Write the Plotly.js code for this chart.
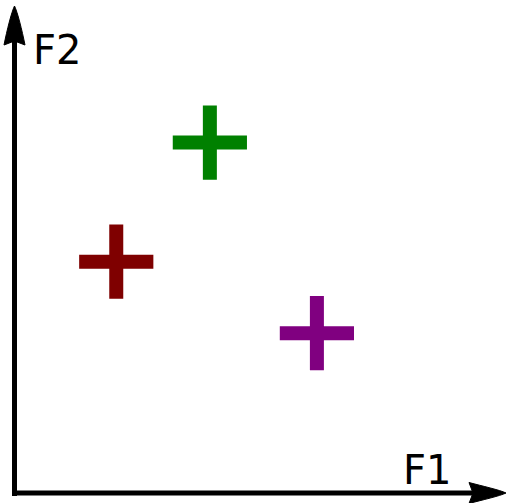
<!DOCTYPE html>
<html>
<head>
<meta charset="utf-8">
<script src="https://cdn.plot.ly/plotly-3.0.1.min.js"></script>
<style>
  html, body { margin: 0; padding: 0; background: #ffffff; }
  #chart { width: 506px; height: 503px; }
</style>
</head>
<body>
<div id="chart"></div>
<script>
// Three groups placed in the F1 / F2 feature plane
const groups = ["A", "B", "C"];
const f1 = [2.12, 4.07, 6.30];
const f2 = [4.82, 7.30, 3.33];
const colors = ["#7f0000", "#008000", "#800080"];
const axisLabels = ["F1", "F2"];

const W = 506, H = 503;
// pixel -> paper helpers for the hand-drawn axis arrows
const px = v => v / W;
const py = v => 1 - v / H;

// origin of the feature axes in pixels and the scale (px per unit)
const ox = 14.5, oy = 493, s = 48;

const trace = {
  type: "scatter",
  mode: "markers",
  x: f1,
  y: f2,
  text: groups,
  hoverinfo: "text",
  marker: {
    symbol: "cross-thin",
    size: 53,
    color: colors,
    line: { color: colors, width: 14 }
  },
  showlegend: false
};

function path(pts) {
  return pts;
}

const upHead = "M" + px(14.5) + "," + py(6) +
  " C" + px(17.5) + "," + py(12) + " " + px(22) + "," + py(30) + " " + px(25) + "," + py(45) +
  " L" + px(14.5) + "," + py(41) +
  " L" + px(4) + "," + py(45) +
  " C" + px(7) + "," + py(30) + " " + px(11.5) + "," + py(12) + " " + px(14.5) + "," + py(6) + " Z";

const rightHead = "M" + px(506) + "," + py(493) +
  " C" + px(500) + "," + py(496) + " " + px(482) + "," + py(500) + " " + px(469) + "," + py(503.5) +
  " L" + px(473) + "," + py(493) +
  " L" + px(469) + "," + py(482.5) +
  " C" + px(482) + "," + py(486) + " " + px(500) + "," + py(490) + " " + px(506) + "," + py(493) + " Z";

const layout = {
  width: W,
  height: H,
  margin: { l: 0, r: 0, t: 0, b: 0 },
  paper_bgcolor: "#ffffff",
  plot_bgcolor: "#ffffff",
  xaxis: {
    range: [-ox / s, (W - ox) / s],
    visible: false,
    fixedrange: true
  },
  yaxis: {
    range: [-(H - oy) / s, oy / s],
    visible: false,
    fixedrange: true
  },
  shapes: [
    { type: "line", xref: "paper", yref: "paper",
      x0: px(14.5), y0: py(496), x1: px(14.5), y1: py(38),
      line: { color: "#000000", width: 5 } },
    { type: "line", xref: "paper", yref: "paper",
      x0: px(12), y0: py(493), x1: px(474), y1: py(493),
      line: { color: "#000000", width: 5 } },
    { type: "path", xref: "paper", yref: "paper", path: upHead,
      fillcolor: "#000000", line: { color: "#000000", width: 1 } },
    { type: "path", xref: "paper", yref: "paper", path: rightHead,
      fillcolor: "#000000", line: { color: "#000000", width: 1 } }
  ],
  annotations: [
    { text: axisLabels[0], xref: "paper", yref: "paper",
      x: px(401), y: py(470), xanchor: "left", yanchor: "middle",
      showarrow: false,
      font: { family: "DejaVu Sans", size: 40, color: "#000000" } },
    { text: axisLabels[1], xref: "paper", yref: "paper",
      x: px(31), y: py(50), xanchor: "left", yanchor: "middle",
      showarrow: false,
      font: { family: "DejaVu Sans", size: 40, color: "#000000" } }
  ]
};

Plotly.newPlot("chart", [trace], layout, { displayModeBar: false, staticPlot: true });
</script>
</body>
</html>
